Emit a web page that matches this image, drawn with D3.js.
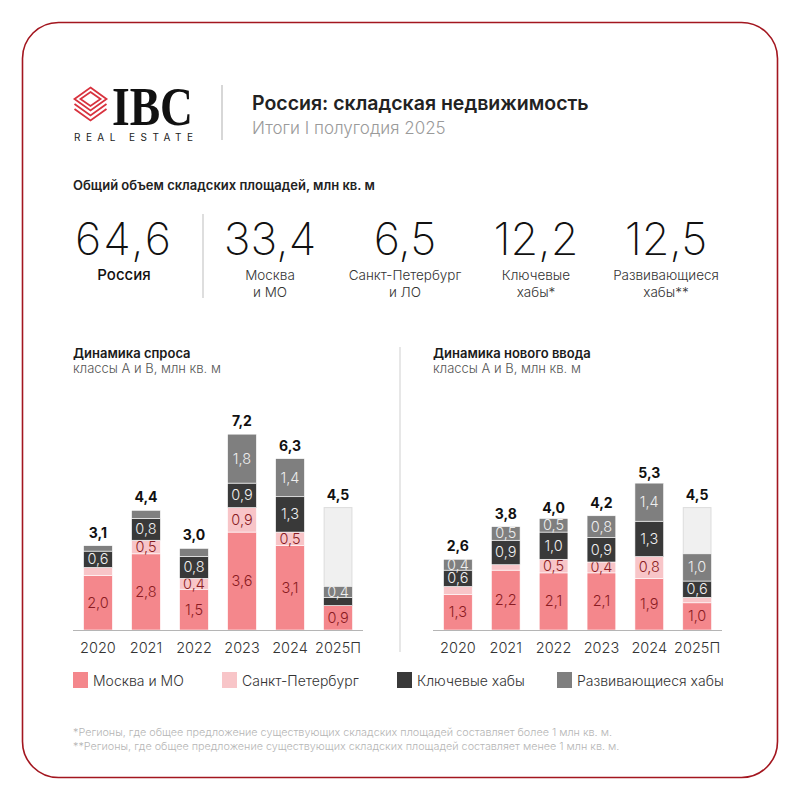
<!DOCTYPE html>
<html><head><meta charset="utf-8">
<script src="https://cdn.jsdelivr.net/npm/d3@7"></script>
<style>
html,body{margin:0;padding:0;background:#fff;}
svg{display:block;font-family:Inter,"Noto Sans",sans-serif;}
</style></head>
<body><svg id="c" width="800" height="800"></svg>
<script>
// ---- data ----
const years = ["2020","2021","2022","2023","2024","2025П"];
const seriesKeys = ["msk","spb","key","dev"];
const seriesNames = ["Москва и МО","Санкт-Петербург","Ключевые хабы","Развивающиеся хабы"];
// Demand (Динамика спроса)
const demandMsk = [2.0, 2.8, 1.5, 3.6, 3.1, 0.9];
const demandSpb = [0.3, 0.5, 0.4, 0.9, 0.5, 0.0];
const demandKey = [0.6, 0.8, 0.8, 0.9, 1.3, 0.3];
const demandDev = [0.2, 0.3, 0.3, 1.8, 1.4, 0.4];
const demandTotal = [3.1, 4.4, 3.0, 7.2, 6.3, 4.5];
// New supply (Динамика нового ввода)
const supplyMsk = [1.3, 2.2, 2.1, 2.1, 1.9, 1.0];
const supplySpb = [0.3, 0.2, 0.5, 0.4, 0.8, 0.2];
const supplyKey = [0.6, 0.9, 1.0, 0.9, 1.3, 0.6];
const supplyDev = [0.4, 0.5, 0.5, 0.8, 1.4, 1.0];
const supplyTotal = [2.6, 3.8, 4.0, 4.2, 5.3, 4.5];
// KPI
const kpiValues = ["64,6","33,4","6,5","12,2","12,5"];
const kpiLabels = [["Россия"],["Москва","и МО"],["Санкт-Петербург","и ЛО"],["Ключевые","хабы*"],["Развивающиеся","хабы**"]];

const colors = {msk:"#f4878c", spb:"#f8c5c8", key:"#393939", dev:"#7f7f7f"};
const labelColors = {msk:"#8a1b22", spb:"#8a1b22", key:"#f0f0f0", dev:"#eeeeee"};
const fmt = d3.formatLocale({decimal:",", thousands:" ", grouping:[3], currency:["",""]}).format(".1f");

const svg = d3.select("#c");

// frame
svg.append("rect").attr("x",22.5).attr("y",22.5).attr("width",755).attr("height",755)
  .attr("rx",36).attr("fill","#fff").attr("stroke","#a3161f").attr("stroke-width",1.6);

// logo
const lg = svg.append("g").attr("fill","none").attr("stroke","#d8323e").attr("stroke-width",1.8).attr("stroke-linejoin","miter");
const cx = 90.5;
lg.append("path").attr("d",`M${cx},87.5 L${cx+16},99 L${cx},110.5 L${cx-16},99 Z`);
lg.append("path").attr("d",`M${cx},92 L${cx+10},99 L${cx},106 L${cx-10},99 Z`);
lg.append("path").attr("d",`M${cx-16},104 L${cx},115.5 L${cx+16},104`);
lg.append("path").attr("d",`M${cx-16},109 L${cx},120.5 L${cx+16},109`);
svg.append("text").attr("x",112).attr("y",125).attr("font-family","'Liberation Serif','DejaVu Serif',serif")
  .attr("font-weight",700).attr("font-size",54).attr("fill","#111")
  .attr("textLength",81).attr("lengthAdjust","spacingAndGlyphs").text("IBC");
svg.append("text").attr("x",74).attr("y",141).attr("font-size",10).attr("fill","#222")
  .attr("textLength",119).attr("lengthAdjust","spacing").text("REAL ESTATE");
svg.append("line").attr("x1",222).attr("x2",222).attr("y1",85).attr("y2",140).attr("stroke","#bdbdbd").attr("stroke-width",1.2);
svg.append("text").attr("x",252).attr("y",110).attr("font-size",19.5).attr("font-weight",600).attr("fill","#222")
  .text("Россия: складская недвижимость");
svg.append("text").attr("x",252).attr("y",134).attr("font-size",17).attr("font-weight",300).attr("fill","#9a9a9a")
  .text("Итоги I полугодия 2025");

// KPI section
svg.append("text").attr("x",73).attr("y",190).attr("font-size",13).attr("font-weight",600).attr("fill","#222")
  .text("Общий объем складских площадей, млн кв. м");
const kpiX = [124, 270, 405, 536, 666];
kpiValues.forEach((v,i)=>{
  svg.append("text").attr("x",kpiX[i]).attr("y",255).attr("text-anchor","middle")
    .attr("font-size",45).attr("font-weight",200).attr("fill","#111")
    .attr("letter-spacing", i===0 ? 2 : 0).text(v);
  kpiLabels[i].forEach((l,j)=>{
    svg.append("text").attr("x",kpiX[i]).attr("y",280+j*17).attr("text-anchor","middle")
      .attr("font-size",i===0?15:13.5).attr("font-weight",i===0?500:300).attr("fill",i===0?"#111":"#333").text(l);
  });
});
svg.append("line").attr("x1",203).attr("x2",203).attr("y1",214).attr("y2",298).attr("stroke","#c8c8c8").attr("stroke-width",1.2);

// divider between charts
svg.append("line").attr("x1",400).attr("x2",400).attr("y1",347).attr("y2",652).attr("stroke","#cfcfcf").attr("stroke-width",1);

const y = d3.scaleLinear().domain([0, 7.2]).range([630, 630 - 7.2*27.2]);

function chart(x0, x1, title, series, totals) {
  const g = svg.append("g");
  g.append("text").attr("x",x0).attr("y",358).attr("font-size",13).attr("font-weight",600).attr("fill","#1a1a1a").text(title);
  g.append("text").attr("x",x0).attr("y",373).attr("font-size",13).attr("font-weight",300).attr("fill","#555").text("классы А и В, млн кв. м");
  const x = d3.scaleBand().domain(years).range([x0, x1]).paddingInner(0.4).paddingOuter(0.22);
  const rows = years.map((yr,i)=>({year:yr, msk:series.msk[i], spb:series.spb[i], key:series.key[i], dev:series.dev[i]}));
  // ghost forecast bar
  g.append("rect").attr("x",x("2025П")+0.5).attr("width",x.bandwidth()-1)
    .attr("y",y(totals[5])).attr("height",y(0)-y(totals[5]))
    .attr("fill","#f0f0f0").attr("stroke","#dcdcdc").attr("stroke-width",1);
  const stack = d3.stack().keys(seriesKeys)(rows);
  stack.forEach(layer=>{
    const k = layer.key;
    g.selectAll(null).data(layer).enter().append("rect")
      .attr("x",d=>x(d.data.year)).attr("width",x.bandwidth())
      .attr("y",d=>y(d[1])).attr("height",d=>Math.max(0,y(d[0])-y(d[1])))
      .attr("fill",colors[k]).attr("stroke","#fff").attr("stroke-width",0.6);
    g.selectAll(null).data(layer.filter(d=>d[1]-d[0]>=0.35)).enter().append("text")
      .attr("x",d=>x(d.data.year)+x.bandwidth()/2)
      .attr("y",d=>(y(d[0])+y(d[1]))/2+5)
      .attr("text-anchor","middle").attr("font-size",14.5).attr("font-weight",300)
      .attr("fill",labelColors[k]).text(d=>fmt(d[1]-d[0]));
  });
  g.selectAll(null).data(years).enter().append("text")
    .attr("x",d=>x(d)+x.bandwidth()/2).attr("y",(d,i)=>y(totals[i])-8)
    .attr("text-anchor","middle").attr("font-size",14).attr("font-weight",700).attr("fill","#111")
    .text((d,i)=>fmt(totals[i]));
  g.append("line").attr("x1",x0).attr("x2",x1).attr("y1",y(0)+0.5).attr("y2",y(0)+0.5).attr("stroke","#b5b5b5").attr("stroke-width",1);
  const ax = d3.axisBottom(x).tickSize(0).tickPadding(0);
  const axg = g.append("g").attr("transform",`translate(0,${y(0)})`).call(ax);
  axg.select(".domain").remove();
  axg.selectAll("text").attr("y",23).attr("dy",0).attr("font-size",14.5).attr("font-weight",300)
    .attr("fill","#333").attr("font-family","Inter,'Noto Sans',sans-serif");
}
chart(73, 363, "Динамика спроса", {msk:demandMsk, spb:demandSpb, key:demandKey, dev:demandDev}, demandTotal);
chart(433, 722, "Динамика нового ввода", {msk:supplyMsk, spb:supplySpb, key:supplyKey, dev:supplyDev}, supplyTotal);

// legend
const legX = [73, 222, 397, 557];
seriesKeys.forEach((k,i)=>{
  svg.append("rect").attr("x",legX[i]).attr("y",672).attr("width",15).attr("height",16).attr("fill",colors[k]);
  svg.append("text").attr("x",legX[i]+20).attr("y",685.5).attr("font-size",14).attr("font-weight",300).attr("fill","#333").text(seriesNames[i]);
});

// footnotes
svg.append("text").attr("x",73).attr("y",736).attr("font-size",10.8).attr("font-weight",300).attr("fill","#b5b5b5")
  .text("*Регионы, где общее предложение существующих складских площадей составляет более 1 млн кв. м.");
svg.append("text").attr("x",73).attr("y",750).attr("font-size",10.8).attr("font-weight",300).attr("fill","#b5b5b5")
  .text("**Регионы, где общее предложение существующих складских площадей составляет менее 1 млн кв. м.");
</script></body></html>
